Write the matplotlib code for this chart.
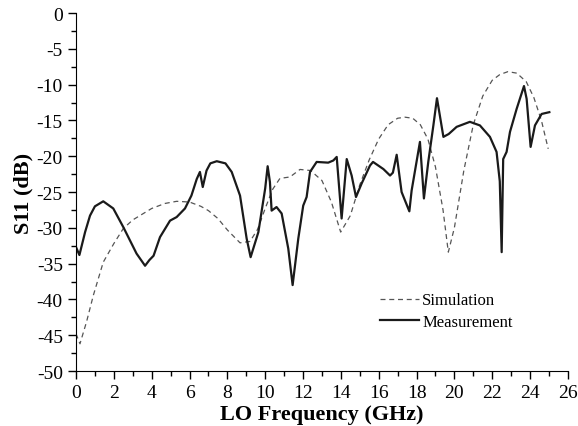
import numpy as np
import matplotlib
matplotlib.use('Agg')
import matplotlib.pyplot as plt
from matplotlib.ticker import MultipleLocator

plt.rcParams['font.family'] = 'Liberation Serif'
plt.rcParams['axes.unicode_minus'] = False

# simulated S11 (dashed)
sim_f = [0.0, 0.21, 0.56, 0.92, 1.44, 2.0, 2.5, 3.0, 4.0, 4.7, 5.32, 6.0, 6.6, 7.0, 7.5,
         8.0, 8.67, 9.2, 9.6, 10.0, 10.4, 10.78, 11.31, 11.84, 12.4, 13.0, 13.5, 13.99,
         14.5, 15.0, 15.5, 16.0, 16.5, 17.0, 17.39, 17.8, 18.2, 18.6, 19.0, 19.4, 19.68,
         20.0, 20.5, 21.0, 21.5, 22.0, 22.4, 22.83, 23.3, 23.8, 24.2, 24.6, 24.96]
sim_s11 = [-44.8, -46.2, -43.1, -39.4, -34.8, -32.2, -30.1, -28.9, -27.3, -26.6, -26.3, -26.4,
           -27.0, -27.6, -28.7, -30.3, -32.1, -31.9, -30.2, -27.3, -24.6, -23.1, -22.9, -21.85,
           -22.0, -23.4, -26.4, -30.6, -28.3, -24.0, -20.5, -17.6, -15.6, -14.7, -14.55, -14.7,
           -15.6, -17.6, -21.5, -27.5, -33.4, -30.0, -22.0, -15.6, -11.6, -9.4, -8.6, -8.19,
           -8.4, -9.6, -11.8, -15.0, -18.97]

# measured S11 (solid)
meas_f = [0.0, 0.18, 0.48, 0.74, 1.0, 1.44, 1.97, 2.5, 3.2, 3.65, 3.88, 4.1, 4.44, 4.97,
          5.32, 5.76, 6.1, 6.38, 6.55, 6.7, 6.9, 7.1, 7.44, 7.9, 8.23, 8.67, 9.02, 9.23,
          9.64, 10.0, 10.13, 10.25, 10.34, 10.6, 10.87, 11.22, 11.45, 11.75, 12.01, 12.19,
          12.37, 12.72, 13.33, 13.6, 13.78, 14.04, 14.31, 14.57, 14.8, 15.1, 15.54, 15.7,
          16.25, 16.6, 16.75, 16.95, 17.21, 17.62, 17.74, 18.18, 18.39, 18.62, 18.89, 19.08,
          19.42, 19.7, 20.12, 20.82, 21.35, 21.88, 22.23, 22.4, 22.5, 22.58, 22.76, 22.94,
          23.29, 23.68, 23.82, 24.03, 24.26, 24.61, 25.02]
meas_s11 = [-32.7, -33.8, -30.6, -28.3, -27.0, -26.3, -27.3, -29.9, -33.6, -35.3, -34.5, -33.9,
            -31.3, -29.0, -28.5, -27.3, -25.5, -23.2, -22.2, -24.3, -22.0, -21.0, -20.7, -21.0,
            -22.2, -25.5, -31.5, -34.1, -30.6, -24.5, -21.4, -23.6, -27.6, -27.1, -28.0, -32.9,
            -38.0, -31.5, -26.9, -25.7, -22.2, -20.8, -20.9, -20.6, -20.1, -28.7, -20.4, -22.7,
            -25.7, -23.8, -21.3, -20.8, -21.8, -22.7, -22.3, -19.8, -25.0, -27.7, -24.8, -18.0,
            -25.9, -20.8, -15.7, -11.9, -17.3, -16.9, -15.9, -15.2, -15.7, -17.3, -19.4, -23.5,
            -33.4, -20.4, -19.4, -16.6, -13.4, -10.2, -12.0, -18.7, -15.7, -14.1, -13.85]


def main():
    fig = plt.figure(figsize=(5.78, 4.27), dpi=100)
    ax = fig.add_axes([0.1315, 0.1288, 0.851, 0.8384])

    ax.plot(sim_f, sim_s11, color='#555555', linewidth=0.9, linestyle=(0, (4, 3)), label='Simulation')
    ax.plot(meas_f, meas_s11, color='#1a1a1a', linewidth=1.6, label='Measurement')

    ax.set_xlim(0, 26)
    ax.set_ylim(-50, 0)
    ax.xaxis.set_major_locator(MultipleLocator(2))
    ax.xaxis.set_minor_locator(MultipleLocator(1))
    ax.yaxis.set_major_locator(MultipleLocator(5))
    ax.yaxis.set_minor_locator(MultipleLocator(2.5))
    ax.spines['top'].set_visible(False)
    ax.spines['right'].set_visible(False)
    ax.tick_params(which='major', direction='out', length=6, width=1, labelsize=14)
    ax.tick_params(which='minor', direction='out', length=3.5, width=1)

    ax.set_xlabel('LO Frequency (GHz)', fontsize=16, fontweight='bold', labelpad=2)
    ax.set_ylabel('S11 (dB)', fontsize=16, fontweight='bold', labelpad=2)

    ax.legend(loc='lower right', bbox_to_anchor=(0.918, 0.072), frameon=False, fontsize=12,
              handlelength=2.3, handletextpad=0.2, labelspacing=0.35)

    fig.savefig('out.png', dpi=100)


if __name__ == '__main__':
    main()
